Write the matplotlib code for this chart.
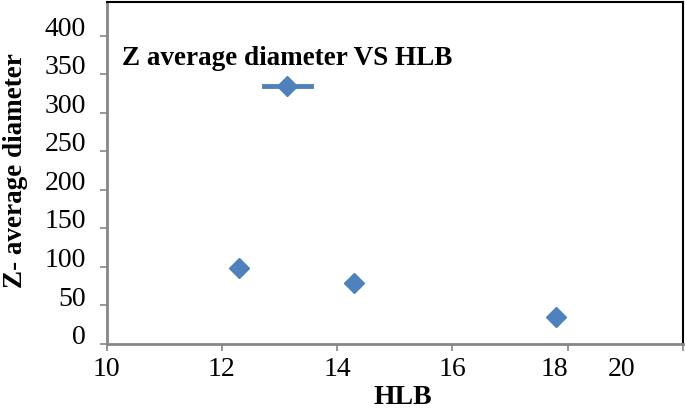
import matplotlib.pyplot as plt
from matplotlib.lines import Line2D
from matplotlib.transforms import ScaledTranslation

hlb = [12.3, 14.3, 17.8]
z_avg = [98, 79, 35]
series_name = "Z average diameter VS HLB"
yticks = [0, 50, 100, 150, 200, 250, 300, 350, 400]
xticks = [10, 12, 14, 16, 18, 20]

blue = "#4F81BD"
axis_gray = "#868686"
tick_size = 20

plt.rcParams["font.family"] = ["Liberation Serif", "DejaVu Serif"]

fig = plt.figure(figsize=(6.85, 4.14), dpi=100)
ax = fig.add_axes([0.1558, 0.1667, 0.8409, 0.8268])

ax.plot(hlb, z_avg, linestyle="none", marker="D", markersize=9.8,
        color=blue, markeredgecolor=blue)

ax.set_xlim(10, 20)
ax.set_ylim(0, 444)
ax.set_yticks(yticks)
ax.set_xticks(xticks)
# the last two x labels sit left of their ticks in the source picture
ax.set_xticklabels(["10", "12", "14", "16", "", ""])
for val, pos in (("18", 17.78), ("20", 18.93)):
    ax.annotate(val, xy=(pos, 0), xycoords=("data", "axes fraction"),
                xytext=(0, -9), textcoords="offset points",
                ha="center", va="top", fontsize=tick_size)

ax.tick_params(axis="both", labelsize=tick_size, color=axis_gray, width=1.2,
               length=5, direction="out")
ax.tick_params(axis="x", pad=4)
ax.tick_params(axis="y", pad=10)
shift = ScaledTranslation(0, 7.5 / 72, fig.dpi_scale_trans)
for lab in ax.get_yticklabels():
    lab.set_transform(lab.get_transform() + shift)

for side in ("left", "bottom"):
    ax.spines[side].set_color(axis_gray)
    ax.spines[side].set_linewidth(2)
for side in ("top", "right"):
    ax.spines[side].set_color("black")
    ax.spines[side].set_linewidth(1.5)

ax.set_xlabel("HLB", fontsize=20, fontweight="bold", labelpad=0)
ax.xaxis.set_label_coords(0.514, -0.117)
ax.set_ylabel("Z- average diameter", fontsize=19.5, fontweight="bold")
ax.yaxis.set_label_coords(-0.137, 0.51)

handle = Line2D([], [], color=blue, lw=3.5, marker="D", markersize=9.8)
leg = ax.legend([handle], [""], title=series_name, loc="upper left",
                bbox_to_anchor=(0.0, 0.918), frameon=False, handlelength=3.4,
                handletextpad=0, alignment="center", handleheight=2.6,
                borderpad=0.6,
                title_fontproperties={"weight": "bold", "size": 19.5})

fig.savefig("out.png", dpi=100)
